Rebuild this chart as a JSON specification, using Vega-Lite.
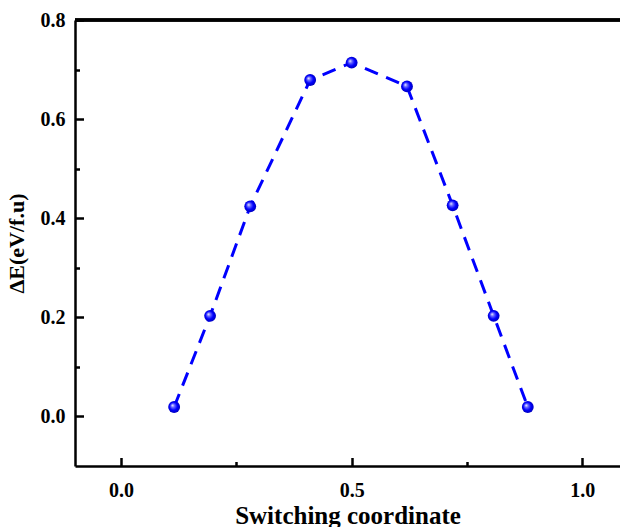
{
  "$schema": "https://vega.github.io/schema/vega-lite/v6.json",
  "width": 545,
  "height": 446,
  "autosize": {"type": "none"},
  "padding": {"left": 75, "top": 20, "right": 0, "bottom": 61},
  "background": "white",
  "config": {
    "view": {"stroke": null},
    "axis": {
      "domainColor": "black",
      "domainWidth": 2.5,
      "tickColor": "black",
      "tickWidth": 2.5,
      "grid": false,
      "labelFont": "Liberation Serif",
      "labelFontWeight": "bold",
      "labelFontSize": 20,
      "labelColor": "black",
      "labelFlush": false,
      "labelOverlap": false,
      "titleFont": "Liberation Serif",
      "titleFontWeight": "bold",
      "titleColor": "black"
    }
  },
  "data": {
    "values": [
      {"x": 0.115, "y": 0.019},
      {"x": 0.193, "y": 0.203},
      {"x": 0.280, "y": 0.424},
      {"x": 0.410, "y": 0.679},
      {"x": 0.500, "y": 0.714},
      {"x": 0.620, "y": 0.666},
      {"x": 0.719, "y": 0.426},
      {"x": 0.808, "y": 0.203},
      {"x": 0.882, "y": 0.019}
    ]
  },
  "layer": [
    {
      "mark": {"type": "rule", "color": "black", "strokeWidth": 2.5},
      "encoding": {"y": {"datum": 0.8, "type": "quantitative", "scale": {"domain": [-0.1, 0.8], "nice": false, "zero": false}, "axis": null}}
    },
    {
      "mark": {"type": "point", "opacity": 0, "size": 1},
      "encoding": {
        "x": {
          "field": "x", "type": "quantitative",
          "scale": {"domain": [-0.1, 1.082], "nice": false, "zero": false},
          "axis": {"orient": "top", "offset": -446, "values": [0.25, 0.75], "labels": false, "title": null, "domain": false, "tickSize": 4.5}
        },
        "y": {
          "field": "y", "type": "quantitative",
          "scale": {"domain": [-0.1, 0.8], "nice": false, "zero": false},
          "axis": {"orient": "right", "offset": -545, "values": [0.1, 0.3, 0.5, 0.7], "labels": false, "title": null, "domain": false, "tickSize": 4.5}
        }
      }
    },
    {
      "mark": {"type": "line", "color": "#0000FF", "strokeWidth": 3, "strokeDash": [14, 9]},
      "encoding": {
        "x": {
          "field": "x", "type": "quantitative", "sort": null,
          "scale": {"domain": [-0.1, 1.082], "nice": false, "zero": false},
          "axis": {
            "orient": "bottom",
            "values": [0, 0.5, 1.0],
            "ticks": false,
            "format": ".1f",
            "labelPadding": 14,
            "title": "Switching coordinate",
            "titleFontSize": 25,
            "titlePadding": 3
          }
        },
        "y": {
          "field": "y", "type": "quantitative",
          "scale": {"domain": [-0.1, 0.8], "nice": false, "zero": false},
          "axis": {
            "orient": "left",
            "values": [0, 0.2, 0.4, 0.6, 0.8],
            "ticks": false,
            "format": ".1f",
            "labelPadding": 10,
            "title": "ΔE(eV/f.u)",
            "titleFontSize": 22,
            "titlePadding": 12
          }
        }
      }
    },
    {
      "mark": {
        "type": "point", "filled": true, "size": 140, "opacity": 1,
        "color": {
          "gradient": "radial",
          "x1": 0.35, "y1": 0.35, "r1": 0,
          "x2": 0.5, "y2": 0.5, "r2": 0.55,
          "stops": [
            {"offset": 0, "color": "#ffffff"},
            {"offset": 0.25, "color": "#7070ff"},
            {"offset": 0.6, "color": "#0000ff"},
            {"offset": 1, "color": "#0000b0"}
          ]
        }
      },
      "encoding": {
        "x": {
          "field": "x", "type": "quantitative",
          "scale": {"domain": [-0.1, 1.082], "nice": false, "zero": false},
          "axis": {"orient": "top", "offset": -446, "values": [0, 0.5, 1.0], "labels": false, "title": null, "domain": false, "tickSize": 8.5}
        },
        "y": {
          "field": "y", "type": "quantitative",
          "scale": {"domain": [-0.1, 0.8], "nice": false, "zero": false},
          "axis": {"orient": "right", "offset": -545, "values": [0, 0.2, 0.4, 0.6, 0.8], "labels": false, "title": null, "domain": false, "tickSize": 8.5}
        }
      }
    }
  ],
  "resolve": {"axis": {"x": "independent", "y": "independent"}}
}
